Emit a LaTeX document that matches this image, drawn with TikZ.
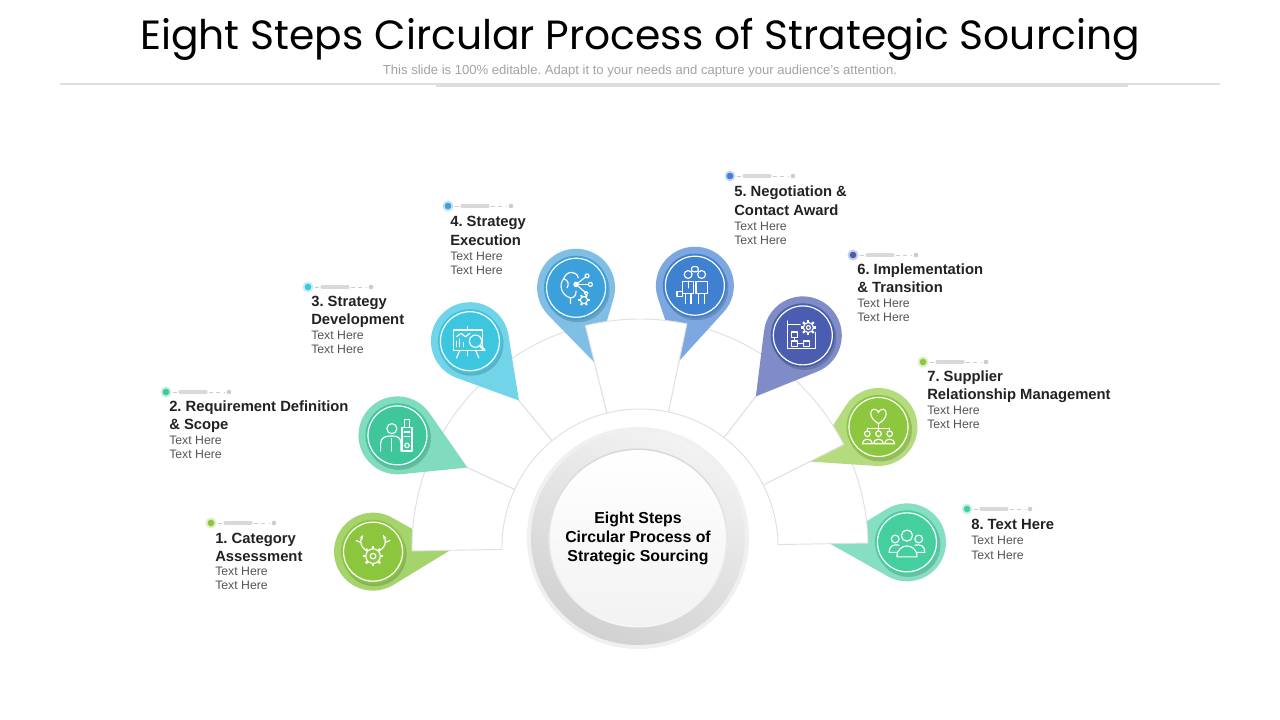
\documentclass[tikz,border=0pt]{standalone}
\usepackage{fontspec}
\setmainfont{Liberation Sans}
\newfontfamily\titlefont{Poppins}
\usetikzlibrary{calc,arrows.meta}
\frenchspacing
\definecolor{p1l}{HTML}{A6D46C}\definecolor{p1d}{HTML}{8CC63F}
\definecolor{p2l}{HTML}{80DBBF}\definecolor{p2d}{HTML}{3FC79B}
\definecolor{p3l}{HTML}{72D4E8}\definecolor{p3d}{HTML}{3CC6E0}
\definecolor{p4l}{HTML}{7FBFE6}\definecolor{p4d}{HTML}{3BA0DC}
\definecolor{p5l}{HTML}{7DA7E0}\definecolor{p5d}{HTML}{3F80D0}
\definecolor{p6l}{HTML}{7F8CC8}\definecolor{p6d}{HTML}{4A5DB0}
\definecolor{p7l}{HTML}{B4DC7E}\definecolor{p7d}{HTML}{8DC63F}
\definecolor{p8l}{HTML}{86DFC2}\definecolor{p8d}{HTML}{45CF9F}
\definecolor{txtdark}{HTML}{222222}
\definecolor{txtgrey}{HTML}{555555}
\newcommand\drawpin[4]{%
  \coordinate (#1) at ($(RC)+(#2:267)$);
  \begin{scope}[shift={(#1)}]
    \pgfmathsetmacro\ta{#2+180}
    \fill[#3] (\ta+59.6:39) -- (\ta:77) -- (\ta-59.6:39)
      arc[start angle=\ta-59.6, end angle=\ta+59.6-360, radius=39] -- cycle;
    \fill[black, opacity=.16] (1.5,2.5) circle[radius=32];
    \fill[#4] (0,0) circle[radius=32];
    \draw[white, line width=0.9pt] (0,0) circle[radius=29.5];
  \end{scope}}
\newcommand\seg[3]{%
  \begin{scope}[shift={(RC)}]
    \filldraw[segstyle] (#2:138) -- (#2:228) arc[start angle=#2, end angle=#3, radius=228]
      -- (#3:138) arc[start angle=#3, end angle=#2, radius=138] -- cycle;
    \coordinate (#1) at ({(#2+#3)/2}:183);
  \end{scope}}
\newcommand\marker[4]{%
  \coordinate (#1) at (#2,#3);
  \fill[#4!30] (#1) circle[radius=5.5];
  \fill[#4] (#1) circle[radius=3.3];
  \draw[mkthin] (#2+7,#3) -- (#2+11,#3);
  \draw[mkbar] (#2+14,#3) -- (#2+40,#3);
  \draw[mkthin, dash pattern=on 3pt off 2.5pt] (#2+43,#3) -- (#2+59,#3);
  \fill[black!20] (#2+63,#3) circle[radius=2.3];}
\begin{document}
\begin{tikzpicture}[x=0.75pt,y=-0.75pt,
  segstyle/.style={fill=white, draw=black!12, line width=0.7pt},
  ic/.style={draw=white, line width=0.85pt, line cap=round, line join=round},
  mkthin/.style={draw=black!20, line width=0.7pt},
  mkbar/.style={draw=black!15, line width=2.4pt, line cap=round},
  ttl/.style={anchor=base west, inner sep=0pt, font=\fontsize{11.1}{13}\selectfont\bfseries, text=txtdark},
  bdy/.style={anchor=base west, inner sep=0pt, font=\fontsize{9.2}{11}\selectfont, text=txtgrey}]
\fill[white] (0,0) rectangle (1280,720);
\useasboundingbox (0,0) rectangle (1280,720);
\coordinate (RC) at (640,547);
\coordinate (CC) at (638,538);

% header
\node[font=\titlefont\fontsize{30.6}{36}\selectfont, text=black] (title) at (640,39) {Eight Steps Circular Process of Strategic Sourcing};
\node[font=\fontsize{9.8}{11}\selectfont, text=black!36] (subtitle) at (640,71) {This slide is 100\% editable. Adapt it to your needs and capture your audience's attention.};
\draw[black!13, line width=0.8pt] (60,84) -- (1220,84);
\draw[black!13, line width=0.8pt] (436,86) -- (1128,86);

% pins under segments
\drawpin{P1}{-181}{p1l}{p1d}
\drawpin{P8}{-1}{p8l}{p8d}
% segments first layer
\seg{S1}{-181}{-155.286}
\seg{S2}{-155.286}{-129.571}
\seg{S3}{-129.571}{-103.857}
\seg{S5}{-78.143}{-52.429}
\seg{S7}{-26.714}{-1}
% pins
\drawpin{P2}{-155.286}{p2l}{p2d}
\drawpin{P3}{-129.571}{p3l}{p3d}
\drawpin{P4}{-103.857}{p4l}{p4d}
\drawpin{P5}{-78.143}{p5l}{p5d}
\drawpin{P7}{-26.714}{p7l}{p7d}
% segments above
\seg{S4}{-103.857}{-78.143}
\seg{S6}{-52.429}{-26.714}
\drawpin{P6}{-52.429}{p6l}{p6d}

% centre
\fill[black!6] (CC) circle[radius=111];
\shade[top color=black!5, bottom color=black!18, shading angle=-25] (CC) circle[radius=107];
\shade[top color=black!16, bottom color=black!3] (CC) circle[radius=89.5];
\shade[top color=white, bottom color=black!5] (CC) circle[radius=88];
\node[font=\fontsize{11.9}{14.3}\selectfont\bfseries, align=center, text=black] (ctext) at (CC) {Eight Steps\\Circular Process of\\Strategic Sourcing};

% icons
\begin{scope}[shift={(P1)}, scale=1.12]
  \draw[ic] (0,4) circle[radius=6.5];
  \draw[ic] (0,4) circle[radius=2.5];
  \begin{scope}[shift={(0,4)}]
    \foreach \a in {0,45,...,315} \draw[white, line width=1.8pt] (\a:6.5) -- (\a:9);
  \end{scope}
  \draw[ic, -{Stealth[length=3.5pt]}] (-6,-1) .. controls (-11,-4) and (-12,-9) .. (-9,-15);
  \draw[ic, -{Stealth[length=3.5pt]}] (6,-1) .. controls (11,-4) and (12,-9) .. (9,-15);
  \draw[ic] (-10.7,-8) -- (-15,-10);
  \draw[ic] (10.7,-8) -- (15,-10);
\end{scope}
\begin{scope}[shift={(P2)}, scale=1.12]
  \draw[ic] (-5,-6) circle[radius=4.5];
  \draw[ic] (-15,14) -- (-15,7) .. controls (-15,2) and (-11,0.5) .. (-5,0.5) .. controls (0,0.5) and (3,2) .. (3,7) -- (3,14);
  \draw[ic] (-5,3) -- (-5,14);
  \draw[ic] (4,-7) rectangle (13,14);
  \draw[ic] (8.5,9) circle[radius=2];
  \draw[ic] (6.5,-14) rectangle (10.5,-7);
  \draw[ic] (6,1) -- (11,1);
  \draw[ic] (6,-3) -- (11,-3);
\end{scope}
\begin{scope}[shift={(P3)}, scale=1.12]
  \draw[ic] (-15,-10) rectangle (11,8);
  \draw[ic] (-2,-10) -- (-2,-13);
  \draw[ic] (-9,8) -- (-12,15);
  \draw[ic] (5,8) -- (8,15);
  \draw[ic] (-2,8) -- (-2,13);
  \draw[ic] (-12,5) -- (-12,0);
  \draw[ic] (-9,5) -- (-9,-2);
  \draw[ic] (-6,5) -- (-6,1);
  \draw[ic] (-12,-4) -- (-8,-7) -- (-4,-4) -- (0,-7);
  \fill[p3d] (5,0) circle[radius=5.5];
  \draw[ic] (5,0) circle[radius=5.5];
  \draw[white, line width=1.8pt, line cap=round] (9,4) -- (13,8);
\end{scope}
\begin{scope}[shift={(P4)}, scale=1.12]
  \draw[ic] (-5,14) -- (-5,9) .. controls (-13,7) and (-16,-3) .. (-11,-8) .. controls (-9,-15) and (0,-16) .. (2,-9);
  \draw[ic] (-11,-8) .. controls (-7,-7) and (-6,-3) .. (-8,0);
  \draw[ic] (-5,9) .. controls (-1,9) and (0,6) .. (0,3);
  \fill[white] (0,-3) circle[radius=2.5];
  \draw[ic] (0,-3) -- (9,-10);
  \draw[ic] (0,-3) -- (11,-3);
  \draw[ic] (0,-3) -- (8,4);
  \draw[ic] (9.8,-10.6) circle[radius=1.8];
  \draw[ic] (12.8,-3) circle[radius=1.8];
  \draw[ic] (9,4.8) circle[radius=1.6];
  \draw[ic] (7,11) circle[radius=3.2];
  \begin{scope}[shift={(7,11)}]
    \foreach \a in {0,60,...,300} \draw[white, line width=1.5pt] (\a:3.2) -- (\a:5.2);
  \end{scope}
\end{scope}
\begin{scope}[shift={(P5)}, scale=1.12]
  \draw[ic] (-6,-10) circle[radius=3.5];
  \draw[ic] (-11,-4) rectangle (-1,7);
  \draw[ic] (-8.5,7) -- (-8.5,16);
  \draw[ic] (-3.5,7) -- (-3.5,16);
  \draw[ic] (-6,-4) -- (-6,2);
  \draw[ic] (-16,5) rectangle (-11,10);
  \draw[ic] (6,-10) circle[radius=3.5];
  \draw[ic] (1,-4) rectangle (11,7);
  \draw[ic] (3.5,7) -- (3.5,16);
  \draw[ic] (8.5,7) -- (8.5,16);
  \draw[ic, rounded corners=1.5pt] (-3,-17) rectangle (3,-12.5);
\end{scope}
\begin{scope}[shift={(P6)}, scale=1.12]
  \draw[ic] (-14,-10) rectangle (11,12);
  \draw[ic] (-14,-13) -- (-14,12);
  \draw[ic] (-10,-3) rectangle (-5,2);
  \draw[ic] (-10,5) rectangle (-5,10);
  \draw[ic] (1,5) rectangle (6,10);
  \draw[ic] (-5,7.5) -- (1,7.5);
  \draw[ic] (-7.5,2) -- (-7.5,5);
  \fill[p6d] (5,-7) circle[radius=7.5];
  \draw[ic] (5,-7) circle[radius=4.5];
  \draw[ic] (5,-7) circle[radius=1.8];
  \begin{scope}[shift={(5,-7)}]
    \foreach \a in {0,45,...,315} \draw[white, line width=1.6pt] (\a:4.5) -- (\a:6.8);
  \end{scope}
\end{scope}
\begin{scope}[shift={(P7)}, scale=1.12]
  \draw[ic] (0,-3) .. controls (-9,-8) and (-8,-16) .. (-4,-16) .. controls (-2,-16) and (0,-14) .. (0,-13)
     .. controls (0,-14) and (2,-16) .. (4,-16) .. controls (8,-16) and (9,-8) .. (0,-3) -- cycle;
  \draw[ic] (0,-3) -- (0,3);
  \draw[ic] (-10,1) -- (10,1);
  \draw[ic] (-10,1) -- (-10,3);
  \draw[ic] (10,1) -- (10,3);
  \foreach \x in {-10,0,10} {
    \draw[ic] (\x,6) circle[radius=2.5];
    \draw[ic] (\x-4.5,15) .. controls (\x-4.5,9.5) and (\x+4.5,9.5) .. (\x+4.5,15) -- cycle;
  }
\end{scope}
\begin{scope}[shift={(P8)}, scale=1.12]
  \draw[ic] (0,-6) circle[radius=5];
  \draw[ic] (-9,13) .. controls (-9,0) and (9,0) .. (9,13) -- cycle;
  \draw[ic] (-10.5,-3) circle[radius=3.5];
  \draw[ic] (10.5,-3) circle[radius=3.5];
  \draw[ic] (-8.7,9) -- (-16,9) .. controls (-16,3) and (-12,1.5) .. (-7,2.5);
  \draw[ic] (8.7,9) -- (16,9) .. controls (16,3) and (12,1.5) .. (7,2.5);
\end{scope}

% labels
\marker{M1}{211}{523}{p1d}
\node[ttl] (t1a) at (215,543) {1. Category};
\node[ttl] (t1b) at (215,561) {Assessment};
\node[bdy] (b1a) at (215,575.5) {Text Here};
\node[bdy] (b1b) at (215,589.5) {Text Here};

\marker{M2}{166}{392}{p2d}
\node[ttl] (t2a) at (169,411) {2. Requirement Definition};
\node[ttl] (t2b) at (169,429) {\& Scope};
\node[bdy] (b2a) at (169,444.5) {Text Here};
\node[bdy] (b2b) at (169,458.5) {Text Here};

\marker{M3}{308}{287}{p3d}
\node[ttl] (t3a) at (311,306) {3. Strategy};
\node[ttl] (t3b) at (311,324) {Development};
\node[bdy] (b3a) at (311,339.5) {Text Here};
\node[bdy] (b3b) at (311,353.5) {Text Here};

\marker{M4}{448}{206}{p4d}
\node[ttl] (t4a) at (450,227) {4. Strategy};
\node[ttl] (t4b) at (450,245) {Execution};
\node[bdy] (b4a) at (450,260.5) {Text Here};
\node[bdy] (b4b) at (450,274.5) {Text Here};

\marker{M5}{730}{176}{p5d}
\node[ttl] (t5a) at (734,197) {5. Negotiation \&};
\node[ttl] (t5b) at (734,215) {Contact Award};
\node[bdy] (b5a) at (734,230.5) {Text Here};
\node[bdy] (b5b) at (734,244.5) {Text Here};

\marker{M6}{853}{255}{p6d}
\node[ttl] (t6a) at (857,274) {6. Implementation};
\node[ttl] (t6b) at (857,292) {\& Transition};
\node[bdy] (b6a) at (857,307.5) {Text Here};
\node[bdy] (b6b) at (857,321.5) {Text Here};

\marker{M7}{923}{362}{p7d}
\node[ttl] (t7a) at (927,381) {7. Supplier};
\node[ttl] (t7b) at (927,399) {Relationship Management};
\node[bdy] (b7a) at (927,414.5) {Text Here};
\node[bdy] (b7b) at (927,428.5) {Text Here};

\marker{M8}{967}{509}{p8d}
\node[ttl] (t8a) at (971,529) {8. Text Here};
\node[bdy] (b8a) at (971,544.5) {Text Here};
\node[bdy] (b8b) at (971,559.5) {Text Here};
\end{tikzpicture}
\end{document}
